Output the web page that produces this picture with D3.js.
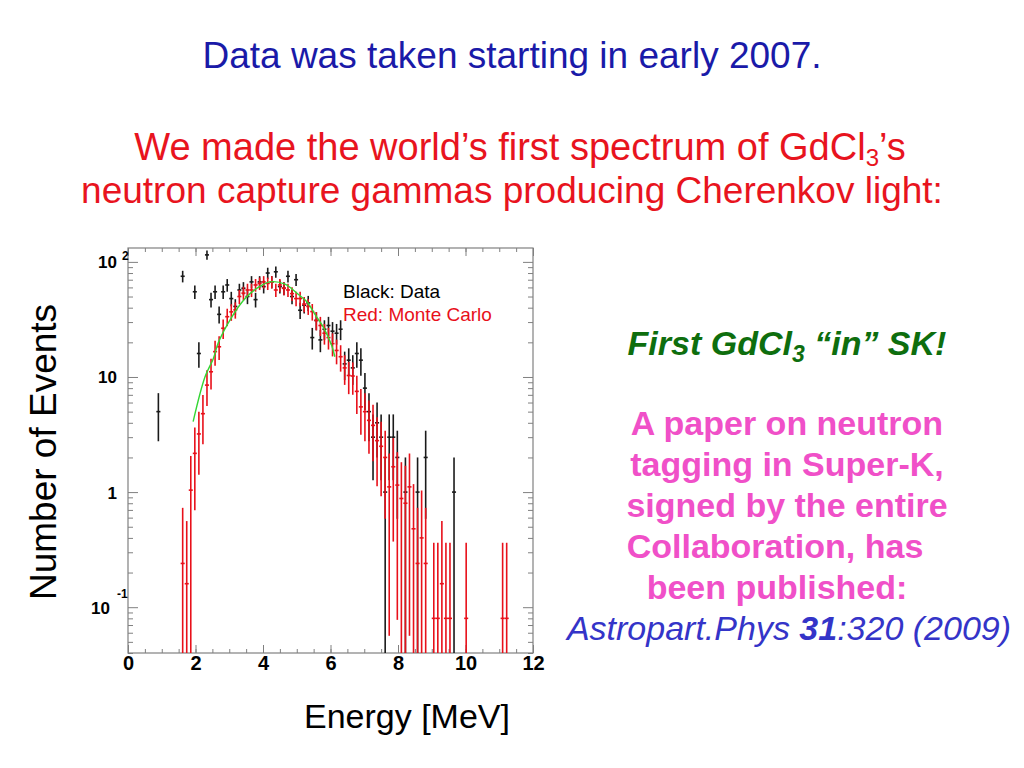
<!DOCTYPE html>
<html>
<head>
<meta charset="utf-8">
<script src="https://cdnjs.cloudflare.com/ajax/libs/d3/7.8.5/d3.min.js"></script>
<style>
  body { margin: 0; background: #fff; }
  svg { display: block; }
  text { font-family: "Liberation Sans", Arial, Helvetica, sans-serif; }
</style>
</head>
<body>
<div id="chart-container"></div>
<script>
// Measured spectrum: bin centres (MeV, 0.12 MeV bins) and counts
const dataEnergy = [0.90, 1.62, 1.98, 2.10, 2.34, 2.46, 2.58, 2.70, 2.82, 2.94, 3.06, 3.18, 3.30, 3.42,
  3.54, 3.66, 3.78, 3.90, 4.02, 4.14, 4.26, 4.38, 4.50, 4.62, 4.74, 4.86, 4.98, 5.10, 5.22, 5.34,
  5.46, 5.58, 5.70, 5.82, 5.94, 6.06, 6.18, 6.30, 6.42, 6.54, 6.66, 6.78, 6.90, 7.02, 7.14, 7.26,
  7.38, 7.50, 7.62, 7.74, 7.86, 7.98, 8.22, 8.58, 8.82, 9.66];
const dataCounts = [5, 75, 55, 16, 115, 47, 55, 35, 55, 63, 48, 41, 57, 59,
  50, 67, 47, 67, 61, 80, 67, 82, 61, 59, 75, 50, 70, 38, 42, 44,
  22, 31, 21, 26, 28, 25, 24, 26, 13, 14, 12, 16, 14, 8, 5, 3,
  4, 3, 1, 3, 3, 2, 1, 1, 2, 1];

// Monte Carlo: bin centres (MeV) and normalised contents
const mcEnergy = [1.62, 1.74, 1.86, 1.98, 2.10, 2.22, 2.34, 2.46, 2.58, 2.70, 2.82, 2.94, 3.06, 3.18,
  3.30, 3.42, 3.54, 3.66, 3.78, 3.90, 4.02, 4.14, 4.26, 4.38, 4.50, 4.62, 4.74, 4.86, 4.98, 5.10,
  5.22, 5.34, 5.46, 5.58, 5.70, 5.82, 5.94, 6.06, 6.18, 6.30, 6.42, 6.54, 6.66, 6.78, 6.90, 7.02,
  7.14, 7.26, 7.38, 7.50, 7.62, 7.74, 7.86, 7.98, 8.10, 8.22, 8.34, 8.46, 8.58, 8.70, 8.82,
  9.06, 9.18, 9.30, 9.42, 9.54, 10.02, 11.10, 11.22];
const mcValues = [0.24, 0.16, 1.04, 2.17, 3.2, 4.8, 8.5, 11.1, 16.6, 18.3, 26.5, 33.4, 36.8, 38.3,
  50, 53.5, 57, 57, 63, 65, 67, 65, 67, 57, 63, 59, 57, 53, 48, 48,
  43, 41, 37, 31, 28, 24, 22, 19.5, 17, 15, 12, 10.3, 10.2, 7.5, 5.5, 5.0,
  4.2, 3.8, 2.8, 2.5, 2.0, 1.11, 1.66, 1.15, 0.88, 0.80, 1.11, 0.48, 0.24, 0.40, 0.24,
  0.08, 0.08, 0.16, 0.08, 0.08, 0.08, 0.08, 0.08];

// Fit curve (green)
const fitEnergy = [1.93, 2.28, 2.53, 2.68, 3.07, 3.47, 3.86, 4.21, 4.65, 5.05, 5.30, 5.54, 5.79, 6.03, 6.13];
const fitValues = [4.1, 10, 14.5, 20, 33, 48, 60, 67, 64, 52, 45, 35, 27, 19, 15];

const xMajorTicks = [0, 2, 4, 6, 8, 10, 12];
const yMajorTicks = [0.1, 1, 10, 100];
const yTickLabels = [["10", "-1"], ["1", ""], ["10", ""], ["10", "2"]];

const width = 1024, height = 768;
const plot = { left: 128, right: 533, top: 248, bottom: 653 };
const halfBin = 0.06;
const black = "#1a1a1a", red = "#e8101a", frameGray = "#808080";

const svg = d3.select('#chart-container').append('svg')
  .attr('width', width)
  .attr('height', height);

const x = d3.scaleLinear().domain([0, 12]).range([plot.left, plot.right]);
const y = d3.scaleLog().domain([0.04, 132]).range([plot.bottom, plot.top]);

svg.append('clipPath').attr('id', 'plotClip').append('rect')
  .attr('x', plot.left).attr('y', plot.top)
  .attr('width', plot.right - plot.left).attr('height', plot.bottom - plot.top);

// Slide texts
svg.append('text').attr('x', 512).attr('y', 68).attr('text-anchor', 'middle')
  .attr('font-size', 37).attr('fill', '#1a1aa8')
  .text('Data was taken starting in early 2007.');

const l1 = svg.append('text').attr('x', 520).attr('y', 160).attr('text-anchor', 'middle')
  .attr('font-size', 38).attr('fill', '#e8141e');
l1.append('tspan').text('We made the world\u2019s first spectrum of GdCl');
l1.append('tspan').attr('font-size', 24).attr('dy', 6).text('3');
l1.append('tspan').attr('dy', -6).text('\u2019s');

svg.append('text').attr('x', 512).attr('y', 203).attr('text-anchor', 'middle')
  .attr('font-size', 37).attr('fill', '#e8141e')
  .text('neutron capture gammas producing Cherenkov light:');

const g1 = svg.append('text').attr('x', 787).attr('y', 355).attr('text-anchor', 'middle')
  .attr('font-size', 34).attr('font-weight', 'bold').attr('font-style', 'italic').attr('fill', '#0e6e0e');
g1.append('tspan').text('First GdCl');
g1.append('tspan').attr('font-size', 23).attr('dy', 7).text('3');
g1.append('tspan').attr('dy', -7).text(' \u201Cin\u201D SK!');

const pinkLines = ['A paper on neutron', 'tagging in Super-K,', 'signed by the entire', 'Collaboration, has', 'been published:'];
const pinkCentres = [787, 787, 787, 775, 777];
pinkLines.forEach((t, i) => {
  svg.append('text').attr('x', pinkCentres[i]).attr('y', 435 + i * 41).attr('text-anchor', 'middle')
    .attr('font-size', 34).attr('font-weight', 'bold').attr('fill', '#f050c8')
    .text(t);
});

const ref = svg.append('text').attr('x', 789).attr('y', 640).attr('text-anchor', 'middle')
  .attr('font-size', 34).attr('font-style', 'italic').attr('fill', '#3434c8');
ref.append('tspan').text('Astropart.Phys ');
ref.append('tspan').attr('font-weight', 'bold').text('31');
ref.append('tspan').text(':320 (2009)');

// Axis titles
svg.append('text').attr('transform', 'translate(56,452) rotate(-90)').attr('text-anchor', 'middle')
  .attr('font-size', 37).attr('fill', '#000').text('Number of Events');
svg.append('text').attr('x', 407).attr('y', 728).attr('text-anchor', 'middle')
  .attr('font-size', 34).attr('fill', '#000').text('Energy [MeV]');

// Frame
svg.append('rect').attr('x', plot.left).attr('y', plot.top)
  .attr('width', plot.right - plot.left).attr('height', plot.bottom - plot.top)
  .attr('fill', 'none').attr('stroke', frameGray).attr('stroke-width', 1.2);

// x axis ticks (bottom with labels, top without)
const xMinor = d3.range(0, 12.01, 0.5);
function styleAxis(g) {
  g.select('.domain').remove();
  g.selectAll('.tick line').attr('stroke', frameGray).attr('stroke-width', 1);
}
svg.append('g').attr('transform', `translate(0,${plot.bottom})`)
  .call(d3.axisBottom(x).tickValues(xMinor).tickSize(-4).tickFormat(''))
  .call(styleAxis);
svg.append('g').attr('transform', `translate(0,${plot.bottom})`)
  .call(d3.axisBottom(x).tickValues(xMajorTicks).tickSize(-8).tickPadding(3).tickFormat(d3.format('d')))
  .call(styleAxis)
  .call(g => g.selectAll('text').attr('font-size', 20).attr('font-weight', 'bold')
    .attr('fill', '#000').attr('font-family', '"Liberation Sans", Arial, sans-serif'));
svg.append('g').attr('transform', `translate(0,${plot.top})`)
  .call(d3.axisTop(x).tickValues(xMinor).tickSize(-4).tickFormat(''))
  .call(styleAxis);
svg.append('g').attr('transform', `translate(0,${plot.top})`)
  .call(d3.axisTop(x).tickValues(xMajorTicks).tickSize(-8).tickFormat(''))
  .call(styleAxis);

// y axis ticks (log), both sides
const yMinor = [];
[0.01, 0.1, 1, 10].forEach(dec => { for (let k = 2; k <= 9; k++) { const v = dec * k; if (v >= 0.04 && v <= 132) yMinor.push(v); } });
[[d3.axisLeft, plot.left], [d3.axisRight, plot.right]].forEach(([axisFn, pos]) => {
  svg.append('g').attr('transform', `translate(${pos},0)`)
    .call(axisFn(y).tickValues(yMinor).tickSize(-5).tickFormat(''))
    .call(styleAxis);
  svg.append('g').attr('transform', `translate(${pos},0)`)
    .call(axisFn(y).tickValues(yMajorTicks).tickSize(-10).tickFormat(''))
    .call(styleAxis);
});

// y tick labels: mantissa and exponent
yMajorTicks.forEach((v, i) => {
  const [base, exp] = yTickLabels[i];
  const endX = exp === '-1' ? 110 : 117;
  svg.append('text').attr('x', endX).attr('y', y(v) + 6.5).attr('text-anchor', 'end')
    .attr('font-size', 17).attr('font-weight', 'bold').attr('fill', '#000').text(base);
  if (exp) {
    svg.append('text').attr('x', exp === '-1' ? 117 : 122).attr('y', exp === '-1' ? y(v) - 9 : y(v) - 1.5)
      .attr('font-size', 12).attr('font-weight', 'bold').attr('fill', '#000').text(exp);
  }
});

// Error-bar points
function drawPoints(energies, values, color) {
  const pts = energies.map((e, i) => ({ e: e, v: values[i], err: Math.sqrt(values[i]) }));
  const g = svg.append('g').attr('clip-path', 'url(#plotClip)')
    .attr('stroke', color).attr('stroke-width', 1.6);
  g.selectAll(null).data(pts).enter().append('line')
    .attr('x1', d => x(d.e)).attr('x2', d => x(d.e))
    .attr('y1', d => y(d.v + d.err))
    .attr('y2', d => (d.v - d.err > 0 ? y(d.v - d.err) : plot.bottom));
  g.selectAll(null).data(pts).enter().append('line')
    .attr('x1', d => x(d.e - halfBin)).attr('x2', d => x(d.e + halfBin))
    .attr('y1', d => y(d.v)).attr('y2', d => y(d.v));
}
drawPoints(dataEnergy, dataCounts, black);
drawPoints(mcEnergy, mcValues, red);

// Fit curve
const fitLine = d3.line()
  .x((d, i) => x(fitEnergy[i]))
  .y(d => y(d))
  .curve(d3.curveCatmullRom);
svg.append('path').datum(fitValues)
  .attr('d', fitLine)
  .attr('fill', 'none').attr('stroke', '#33d633').attr('stroke-width', 1.4)
  .attr('clip-path', 'url(#plotClip)');

// Legend
svg.append('text').attr('x', 343).attr('y', 298).attr('font-size', 19).attr('fill', '#000').text('Black: Data');
svg.append('text').attr('x', 343).attr('y', 321).attr('font-size', 19).attr('fill', red).text('Red: Monte Carlo');
</script>
</body>
</html>
